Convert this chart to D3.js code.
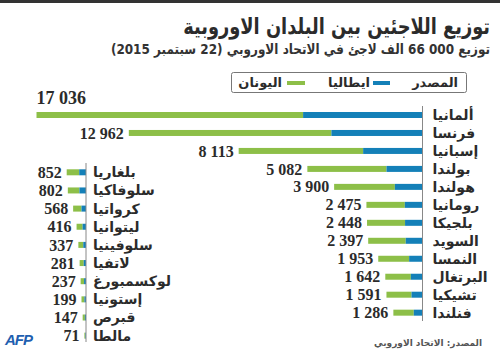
<!DOCTYPE html>
<html><head><meta charset="utf-8">
<script src="https://cdn.jsdelivr.net/npm/d3@7"></script>
<style>
html,body{margin:0;padding:0;background:#fff;}
svg{display:block;}
</style></head>
<body>
<svg id="c" width="500" height="350"></svg>
<script>
// Large group (right)
const bigCountries = ["ألمانيا","فرنسا","إسبانيا","بولندا","هولندا","رومانيا","بلجيكا","السويد","النمسا","البرتغال","تشيكيا","فنلندا"];
const bigTotal =     [17036, 12962, 8113, 5082, 3900, 2475, 2448, 2397, 1953, 1642, 1591, 1286];
const bigItaly =     [5270, 4020, 2620, 1590, 1220, 780, 770, 740, 590, 515, 485, 385];
// Small group (left)
const smallCountries = ["بلغاريا","سلوفاكيا","كرواتيا","ليتوانيا","سلوفينيا","لاتفيا","لوكسمبورغ","إستونيا","قبرص","مالطا"];
const smallTotal =     [852, 802, 568, 416, 337, 281, 237, 199, 147, 71];
const smallItaly =     [300, 290, 200, 150, 120, 100, 85, 70, 50, 25];
const seriesNames = ["ايطاليا","اليونان"];
const legendTitle = "المصدر";
const title = "توزيع اللاجئين بين البلدان الاوروبية";
const subtitle = "توزيع 000 66 الف لاجئ في الاتحاد الاوروبي (22 سبتمبر 2015)";
const source = "المصدر: الاتحاد الاوروبي";

const BLUE = "#1480b8", GREEN = "#8dbf48", TXT = "#2b2b2b";
const AR = "'DejaVu Sans', sans-serif";
const NUM = "'Liberation Serif', serif";
const fmt = v => { const s = String(v); return s.length > 3 ? s.slice(0, s.length-3) + " " + s.slice(-3) : s; };

const svg = d3.select("#c");
svg.append("rect").attr("x",0).attr("y",0).attr("width",500).attr("height",3).attr("fill","#333");

svg.append("text").attr("transform","translate(490,34) scale(0.81,1)").attr("direction","rtl").attr("text-anchor","start")
  .attr("font-family",AR).attr("font-weight","bold").attr("font-size",22).attr("fill",TXT).text(title);
svg.append("text").attr("transform","translate(490,54) scale(0.86,1)").attr("direction","rtl").attr("text-anchor","start")
  .attr("font-family",AR).attr("font-weight","bold").attr("font-size",14).attr("fill","#333").text(subtitle);

// legend
const lg = svg.append("g");
lg.append("rect").attr("x",231.5).attr("y",72.5).attr("width",235).attr("height",20).attr("rx",2)
  .attr("fill","#fff").attr("stroke","#777");
lg.append("text").attr("x",458).attr("y",87).attr("direction","rtl").attr("text-anchor","start")
  .attr("font-family",AR).attr("font-weight","bold").attr("font-size",13).attr("fill",TXT).text(legendTitle);
lg.append("rect").attr("x",373).attr("y",81).attr("width",17).attr("height",4).attr("fill",BLUE);
lg.append("text").attr("x",370).attr("y",87).attr("direction","rtl").attr("text-anchor","start")
  .attr("font-family",AR).attr("font-weight","bold").attr("font-size",13).attr("fill",TXT).text(seriesNames[0]);
lg.append("rect").attr("x",287).attr("y",81).attr("width",18).attr("height",4).attr("fill",GREEN);
lg.append("text").attr("x",282).attr("y",87).attr("direction","rtl").attr("text-anchor","start")
  .attr("font-family",AR).attr("font-weight","bold").attr("font-size",13).attr("fill",TXT).text(seriesNames[1]);

const w = d3.scaleLinear().domain([0,17036]).range([0,386]);

function group(countries, totals, italy, axisX, y0, step, axisTop, axisBottom, nameGap){
  const y = d3.scaleLinear().domain([0,1]).range([y0, y0+step]);
  const g = svg.append("g");
  countries.forEach((c,i)=>{
    const cy = y(i), bh = 6;
    const tw = w(totals[i]), iw = w(italy[i]);
    g.append("rect").attr("x",axisX - tw).attr("y",cy-bh/2).attr("width",tw-iw).attr("height",bh).attr("fill",GREEN);
    g.append("rect").attr("x",axisX - iw).attr("y",cy-bh/2).attr("width",iw).attr("height",bh).attr("fill",BLUE);
    g.append("text").attr("x",axisX+nameGap).attr("y",cy).attr("dy","0.35em")
      .attr("font-family",AR).attr("font-weight","bold").attr("font-size",14).attr("fill",TXT).text(c);
    const top = (i===0 && totals[i]===17036);
    g.append("text")
      .attr("x", top ? axisX - tw : axisX - tw - 5)
      .attr("y", top ? cy - 11 : cy).attr("dy", top ? 0 : "0.35em")
      .attr("text-anchor", top ? "start" : "end")
      .attr("font-family",NUM).attr("font-weight","bold").attr("font-size", top ? 18 : 16)
      .attr("fill",TXT).text(fmt(totals[i]));
  });
  g.append("line").attr("x1",axisX).attr("x2",axisX).attr("y1",axisTop).attr("y2",axisBottom)
    .attr("stroke","#888").attr("stroke-width",1);
}
group(bigCountries, bigTotal, bigItaly, 422.5, 115, 17.97, 106, 321, 10);
group(smallCountries, smallTotal, smallItaly, 86, 172.3, 18.15, 163, 342, 7);

svg.append("text").attr("x",482).attr("y",346).attr("direction","rtl").attr("text-anchor","start")
  .attr("font-family",AR).attr("font-weight","bold").attr("font-size",9).attr("fill","#555").text(source);
svg.append("text").attr("x",5).attr("y",345).attr("font-family","'Liberation Sans', sans-serif")
  .attr("font-weight","900").attr("font-style","italic").attr("font-size",15).attr("letter-spacing",-1)
  .attr("fill","#1f5fb0").text("AFP");
</script>
</body></html>
